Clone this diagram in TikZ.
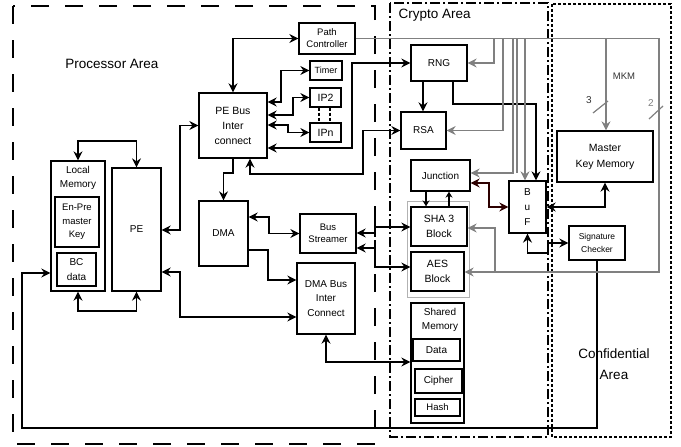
\documentclass[tikz,border=0pt]{standalone}
\usepackage{fontspec}
\setmainfont{Liberation Sans}
\usetikzlibrary{arrows.meta,calc}

\begin{document}
\begin{tikzpicture}[x=1pt,y=-1pt,
    blk/.style={draw,line width=1.3pt,inner sep=0pt,align=center,font=\fontsize{10}{14.5}\selectfont},
    conn/.style={line width=1.3pt,-{Stealth[length=9pt,width=9pt,inset=3pt]}},
    biconn/.style={line width=1.3pt,{Stealth[length=9pt,width=9pt,inset=3pt]}-{Stealth[length=9pt,width=9pt,inset=3pt]}},
    smallconn/.style={line width=1.3pt,-{Stealth[length=6pt,width=7pt,inset=2pt]}},
    gconn/.style={line width=1.2pt,gray,-{Stealth[length=9pt,width=9pt,inset=3pt]}},
    gline/.style={line width=1.2pt,gray},
    area/.style={font=\fontsize{13.5}{21}\selectfont}]
  \useasboundingbox (0,0) rectangle (681,447);

  % areas
  \draw[line width=1.3pt,dash pattern=on 18pt off 16pt] (13,6) rectangle (375,444);
  \draw[line width=1.2pt,dash pattern=on 10pt off 3pt on 2pt off 3pt] (390,3) rectangle (548,437);
  \draw[line width=1.3pt,dash pattern=on 3pt off 2pt] (552,4) rectangle (671,437);
  \node[area] (procarea) at (112,64) {Processor Area};
  \node[area,anchor=west] (cryptoarea) at (395,15) {Crypto Area};
  \node[area,align=center] (confarea) at (614,364.5) {Confidential\\Area};

  % processor side
  \node[blk,minimum width=54pt,minimum height=130pt] (locmem) at (78,226) {};
  \node[align=center,font=\fontsize{10}{14}\selectfont] (locmemlbl) at (78,178) {Local\\Memory};
  \node[blk,minimum width=44pt,minimum height=50pt,font=\fontsize{9.5}{13.5}\selectfont] (enpre) at (77,222) {En-Pre\\master\\Key};
  \node[blk,minimum width=39pt,minimum height=33pt] (bcdata) at (76.5,269.5) {BC\\data};
  \node[blk,minimum width=49pt,minimum height=123pt] (pe) at (136.5,229.5) {PE};
  \node[blk,minimum width=68pt,minimum height=65pt,font=\fontsize{10.5}{15}\selectfont] (pebus) at (233,125.5) {PE Bus\\Inter\\connect};
  \node[blk,minimum width=56pt,minimum height=31pt,font=\fontsize{9.5}{12}\selectfont] (pathctl) at (327,38.5) {Path\\Controller};
  \node[blk,minimum width=32pt,minimum height=19pt,font=\fontsize{9}{11}\selectfont] (timer) at (326,70.5) {Timer};
  \node[blk,minimum width=31pt,minimum height=19pt,font=\fontsize{10.5}{12}\selectfont] (iptwo) at (325.5,97.5) {IP2};
  \node[blk,minimum width=31pt,minimum height=19pt,font=\fontsize{10.5}{12}\selectfont] (ipn) at (325.5,132.5) {IPn};
  \node[blk,minimum width=49pt,minimum height=65pt] (dma) at (223.5,233.5) {DMA};
  \node[blk,minimum width=56pt,minimum height=39pt,font=\fontsize{9.5}{12}\selectfont] (busstr) at (328,233.5) {Bus\\Streamer};
  \node[blk,minimum width=58pt,minimum height=71pt] (dmabus) at (326,298.5) {DMA Bus\\Inter\\Connect};

  % crypto side
  \node[blk,minimum width=56pt,minimum height=36pt] (rng) at (439,63) {RNG};
  \node[blk,minimum width=45pt,minimum height=37pt] (rsa) at (423.5,130.5) {RSA};
  \node[blk,minimum width=59pt,minimum height=31pt] (junction) at (440.5,175.5) {Junction};
  \draw[line width=1pt,gray!60] (407,201) rectangle (469,297);
  \node[blk,minimum width=56pt,minimum height=39pt,font=\fontsize{10.5}{15}\selectfont] (sha) at (439,226.5) {SHA 3\\Block};
  \node[blk,minimum width=53pt,minimum height=39pt,font=\fontsize{10.5}{15}\selectfont] (aes) at (437.5,271.5) {AES\\Block};
  \node[blk,minimum width=53pt,minimum height=120pt] (shmem) at (437.5,363) {};
  \node[align=center,font=\fontsize{10}{14}\selectfont] (shmemlbl) at (440,320) {Shared\\Memory};
  \node[blk,minimum width=47pt,minimum height=22pt] (data) at (436.5,350) {Data};
  \node[blk,minimum width=47pt,minimum height=24pt] (cipher) at (438.5,381) {Cipher};
  \node[blk,minimum width=45pt,minimum height=17pt,font=\fontsize{9.5}{11}\selectfont] (hash) at (437.5,407.5) {Hash};
  \node[blk,minimum width=37pt,minimum height=52pt,font=\fontsize{10}{15}\selectfont] (buf) at (527.5,207) {B\\u\\F};

  % confidential side
  \node[blk,minimum width=96pt,minimum height=51pt,font=\fontsize{10.5}{16}\selectfont] (mkm) at (605,156.5) {Master\\Key Memory};
  \node[blk,minimum width=56pt,minimum height=34pt,font=\fontsize{8.5}{13}\selectfont] (sig) at (597,243) {Signature\\Checker};

  % black connectors
  \draw[biconn] (locmem.north) -- (locmem.north |- 0,141) -| (pe.north);
  \draw[biconn] (locmem.south) -- (locmem.south |- 0,311) -| (pe.south);
  \draw[biconn] (pe.east |- 0,230) -- (180,230) |- (pebus.west);
  \draw[biconn] (pe.east |- 0,272) -- (180,272) |- (dmabus.west |- 0,317);
  \draw[conn] (sig.south) -- (sig.south |- 0,428) -| (22,273) -- (locmem.west |- 0,273);
  \draw[biconn] (pebus.north) |- (pathctl.west);
  \draw[biconn] (pebus.east |- 0,102) -- (281,102) |- (timer.west);
  \draw[biconn] (pebus.east |- 0,115) -- (293,115) |- (iptwo.west);
  \draw[biconn] (pebus.east |- 0,125) -- (288,125) |- (ipn.west);
  \draw[line width=1.2pt,dash pattern=on 3pt off 2pt] (iptwo.south -| 319,0) -- (ipn.north -| 319,0);
  \draw[line width=1.2pt,dash pattern=on 3pt off 2pt] (iptwo.south -| 330,0) -- (ipn.north -| 330,0);
  \draw[biconn] (pebus.east |- 0,148) -- (352,148) |- (rng.west);
  \draw[biconn] (pebus.south -| 250,0) -- (250,174) -- (363,174) |- (rsa.west);
  \draw[conn] (pebus.south) -- (pebus.south |- 0,173) -| (dma.north);
  \draw[biconn] (dma.east |- 0,217) -- (269,217) |- (busstr.west);
  \draw[conn] (dma.east |- 0,250) -- (268,250) |- (dmabus.west |- 0,280);
  \draw[biconn] (dmabus.south) -- (dmabus.south |- 0,362) -- (shmem.west |- 0,362);
  \draw[conn] (375,233) -- (busstr.east |- 0,233);
  \draw[line width=1.3pt] (375,220) -- (375,237);
  \draw[conn] (375,227) -- (sha.west |- 0,227);
  \draw[biconn] (busstr.east |- 0,248) -- (375,248) |- (aes.west |- 0,267);
  \draw[conn] (rng.south -| 423,0) -- (rsa.north -| 423,0);
  \draw[conn] (rng.south -| 453,0) -- (453,104) -| (buf.north -| 536,0);
  \draw[smallconn] (junction.south -| 426,0) -- (sha.north -| 426,0);
  \draw[smallconn] (sha.north -| 449,0) -- (junction.south -| 449,0);
  \draw[biconn,draw={rgb,255:red,45;green,0;blue,0}] (junction.east |- 0,183) -- (489,183) |- (buf.west);
  \draw[biconn] (buf.south) -- (buf.south |- 0,253) -- (548,253) |- (sig.west);
  \draw[biconn] (mkm.south) |- (buf.east);

  % gray control lines
  \draw[gconn] (pathctl.east) -- (659,38.5) -- (659,272) -- (aes.east |- 0,272);
  \draw[gconn] (495,272) -- (495,228) -- (sha.east |- 0,228);
  \draw[gconn] (494,38.5) |- (rng.east);
  \draw[gconn] (503,38.5) |- (rsa.east);
  \draw[gconn] (513,38.5) |- (junction.east |- 0,173);
  \draw[gline] (517,38.5) -- (517,173);
  \draw[gconn] (525,38.5) -- (buf.north -| 525,0);
  \draw[gconn] (606,38.5) -- (mkm.north -| 606,0);
  \draw[gline] (593,113) -- (608,101);
  \draw[gline] (649,119) -- (663,106);
  \node[font=\fontsize{9.5}{11}\selectfont,text=black!80] (mkmlbl) at (624,76) {MKM};
  \node[font=\fontsize{10}{11}\selectfont,text=black!80] (threelbl) at (589,100) {3};
  \node[font=\fontsize{10}{11}\selectfont,text=gray] (twolbl) at (651,103) {2};
\end{tikzpicture}
\end{document}
